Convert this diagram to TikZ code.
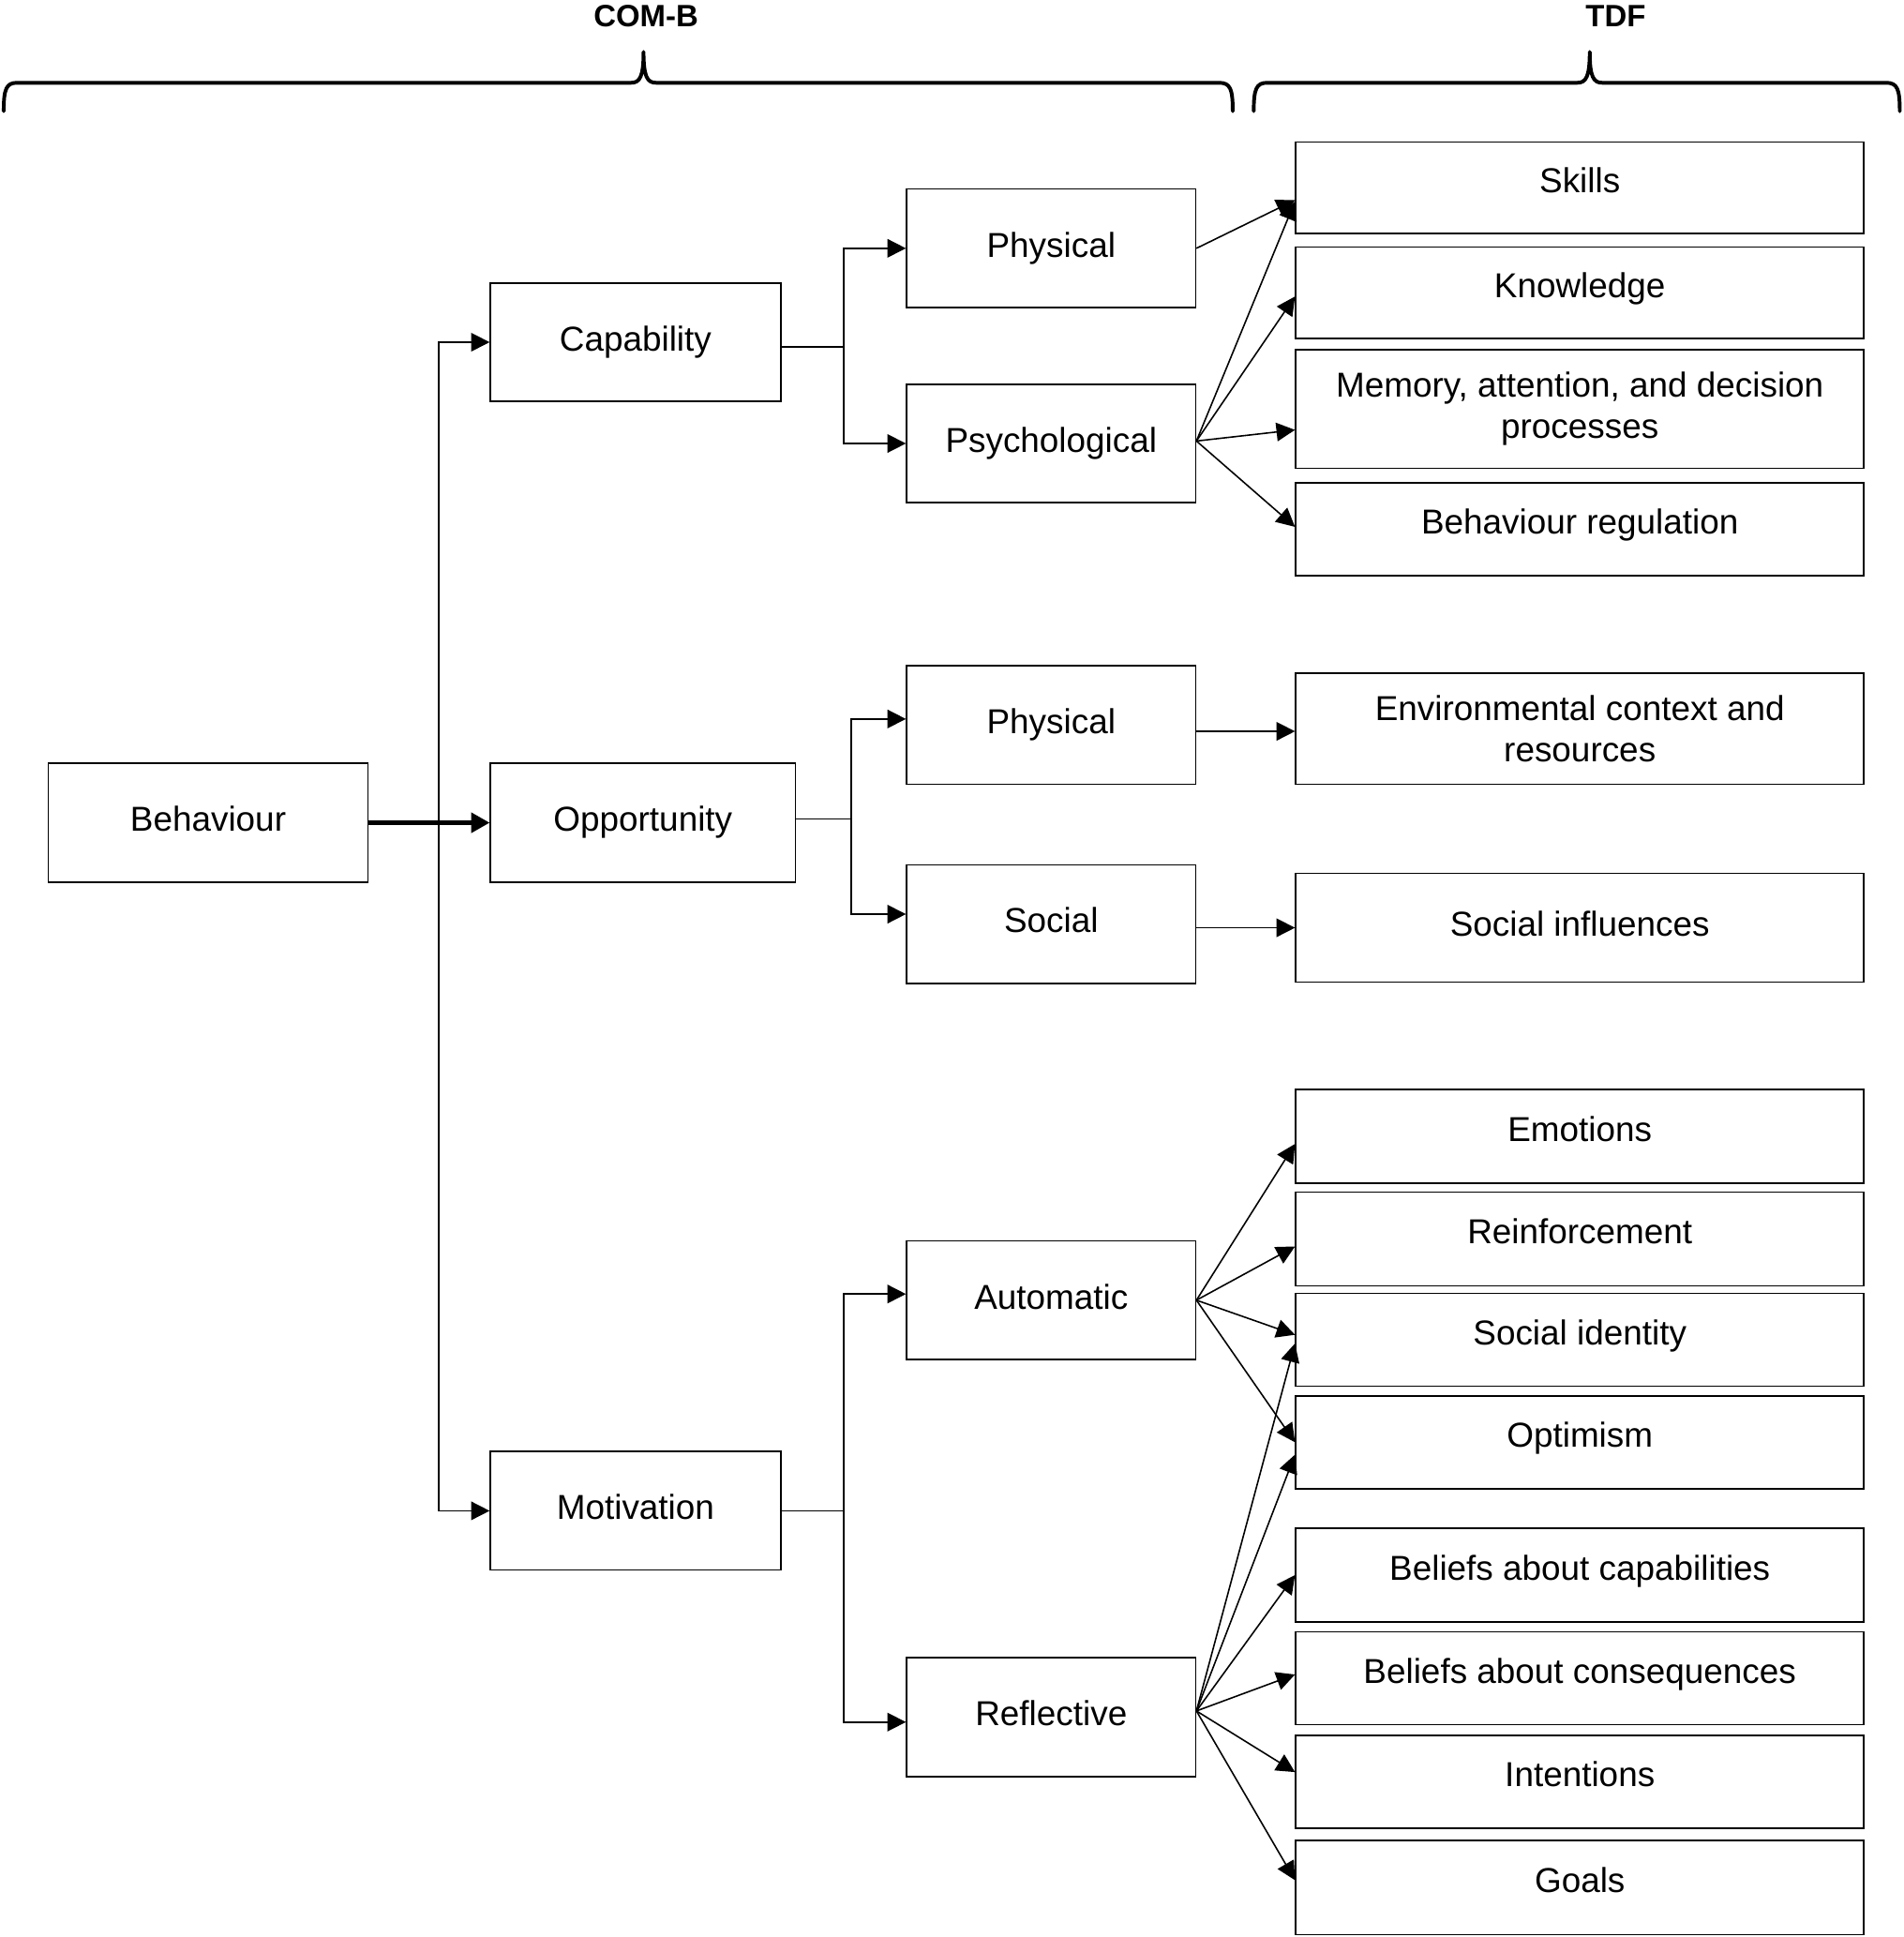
\documentclass[tikz,border=0pt]{standalone}
\usepackage{fontspec}
\setmainfont{Liberation Sans}
\usetikzlibrary{arrows.meta,calc}
\begin{document}
\begin{tikzpicture}[x=0.5pt,y=-0.5pt,
  box/.style={draw, line width=0.6pt, rectangle, inner sep=0pt, align=center,
    font=\fontsize{14}{16.5}\selectfont},
  one/.style={text height=10.5pt, text depth=3.5pt},
  tdfone/.style={text height=10.5pt, text depth=6.5pt},
  lvltwo/.style={box, one, minimum height=48pt},
  lvlthree/.style={box, one, minimum width=117pt, minimum height=48pt},
  tdf/.style={box, minimum width=230pt},
  conn/.style={line width=0.6pt},
  arr/.style={conn, -{Triangle[length=7.5pt,width=7.5pt]}},
  thickarr/.style={line width=1.6pt, -{Triangle[length=7.5pt,width=8pt]}},
  bracepath/.style={line width=1.5pt, line join=round, line cap=round},
  title/.style={font=\bfseries\fontsize{12.5}{15}\selectfont, inner sep=0pt}
]
\useasboundingbox (0,0) rectangle (1541,1568);

% titles and braces
\node[title] (tcomb) at (523,13) {COM-B};
\node[title] (ttdf) at (1308,13) {TDF};
\draw[bracepath] (3,90) .. controls (3,72) and (5,67) .. (14,67) -- (511,67)
  .. controls (518,67) and (521,62) .. (521,42)
  .. controls (521,62) and (524,67) .. (531,67) -- (987,67)
  .. controls (996,67) and (998,72) .. (998,90);
\draw[bracepath] (1015,90) .. controls (1015,72) and (1017,67) .. (1026,67) -- (1277,67)
  .. controls (1284,67) and (1287,62) .. (1287,42)
  .. controls (1287,62) and (1290,67) .. (1297,67) -- (1527,67)
  .. controls (1536,67) and (1538,72) .. (1538,90);

% level 1 and 2
\node[box, one, minimum width=129.5pt, minimum height=48pt] (beh) at (168.5,666) {Behaviour};
\node[lvltwo, minimum width=117.5pt] (cap) at (514.5,277) {Capability};
\node[lvltwo, minimum width=123.5pt] (opp) at (520.5,666) {Opportunity};
\node[lvltwo, minimum width=117.5pt] (mot) at (514.5,1223) {Motivation};

% level 3
\node[lvlthree] (cphys) at (851,201) {Physical};
\node[lvlthree] (cpsy) at (851,359) {Psychological};
\node[lvlthree] (ophys) at (851,587) {Physical};
\node[lvlthree] (osoc) at (851,748) {Social};
\node[lvlthree] (auto) at (851,1052.5) {Automatic};
\node[lvlthree] (refl) at (851,1390) {Reflective};

% TDF
\node[tdf, tdfone, minimum height=37pt] (skills) at (1279,152) {Skills};
\node[tdf, tdfone, minimum height=37pt] (know) at (1279,237) {Knowledge};
\node[tdf, minimum height=48pt] (mem) at (1279,331) {Memory, attention, and decision\\processes};
\node[tdf, tdfone, minimum height=37.5pt] (breg) at (1279,428.5) {Behaviour regulation};
\node[tdf, minimum height=45pt] (env) at (1279,590) {Environmental context and\\resources};
\node[tdf, one, minimum height=44pt] (sinf) at (1279,751) {Social influences};
\node[tdf, tdfone, minimum height=38pt] (emo) at (1279,920) {Emotions};
\node[tdf, tdfone, minimum height=38pt] (reinf) at (1279,1003) {Reinforcement};
\node[tdf, tdfone, minimum height=37.5pt] (sid) at (1279,1084.5) {Social identity};
\node[tdf, tdfone, minimum height=37.5pt] (opt) at (1279,1167.5) {Optimism};
\node[tdf, tdfone, minimum height=38pt] (bcap) at (1279,1275) {Beliefs about capabilities};
\node[tdf, tdfone, minimum height=37.5pt] (bcon) at (1279,1358.5) {Beliefs about consequences};
\node[tdf, tdfone, minimum height=37.5pt] (intn) at (1279,1442.5) {Intentions};
\node[tdf, tdfone, minimum height=38pt] (goals) at (1279,1528) {Goals};

% behaviour to COM components
\coordinate (trunk) at (355,666);
\draw[thickarr] (beh.east) -- (opp.west);
\draw[arr] (trunk) |- (cap.west);
\draw[arr] (trunk) |- (mot.west);

% capability branch
\coordinate (cbr) at (683,281);
\draw[arr] (cap.east |- cbr) -- (cbr) |- (cphys.west);
\draw[arr] (cbr) |- (cpsy.west);

% opportunity branch
\coordinate (obr) at (689,663);
\draw[arr] (opp.east |- obr) -- (obr) |- ([yshift=2.5pt]ophys.west);
\draw[arr] (obr) |- ([yshift=4pt]osoc.west);

% motivation branch
\coordinate (mbr) at (683,1223);
\draw[arr] (mot.east |- mbr) -- (mbr) |- ([yshift=2.5pt]auto.west);
\draw[arr] (mbr) |- ([yshift=-2pt]refl.west);

% fans to TDF
\draw[arr] (cphys.east) -- ([yshift=-5pt]skills.west);
\draw[arr] ([yshift=1pt]cpsy.east) -- ([yshift=-5.5pt]skills.west);
\draw[arr] ([yshift=1pt]cpsy.east) -- ([yshift=-1.5pt]know.west);
\draw[arr] ([yshift=1pt]cpsy.east) -- ([yshift=-8.5pt]mem.west);
\draw[arr] ([yshift=1pt]cpsy.east) -- ([yshift=1pt]breg.west);
\draw[arr] ([yshift=-1pt]ophys.east |- env.west) -- ([yshift=-1pt]env.west);
\draw[arr] (osoc.east |- sinf.west) -- (sinf.west);

\draw[arr] (auto.east) -- ([yshift=-3pt]emo.west);
\draw[arr] (auto.east) -- ([yshift=-3pt]reinf.west);
\draw[arr] (auto.east) -- ([yshift=2pt]sid.west);
\draw[arr] (auto.east) -- (opt.west);

\draw[arr] ([yshift=2.5pt]refl.east) -- ([yshift=-1.5pt]sid.west);
\draw[arr] ([yshift=2.5pt]refl.east) -- ([yshift=-5pt]opt.west);
\draw[arr] ([yshift=2.5pt]refl.east) -- (bcap.west);
\draw[arr] ([yshift=2.5pt]refl.east) -- ([yshift=1.5pt]bcon.west);
\draw[arr] ([yshift=2.5pt]refl.east) -- ([yshift=4pt]intn.west);
\draw[arr] ([yshift=2.5pt]refl.east) -- ([yshift=3pt]goals.west);
\end{tikzpicture}
\end{document}
